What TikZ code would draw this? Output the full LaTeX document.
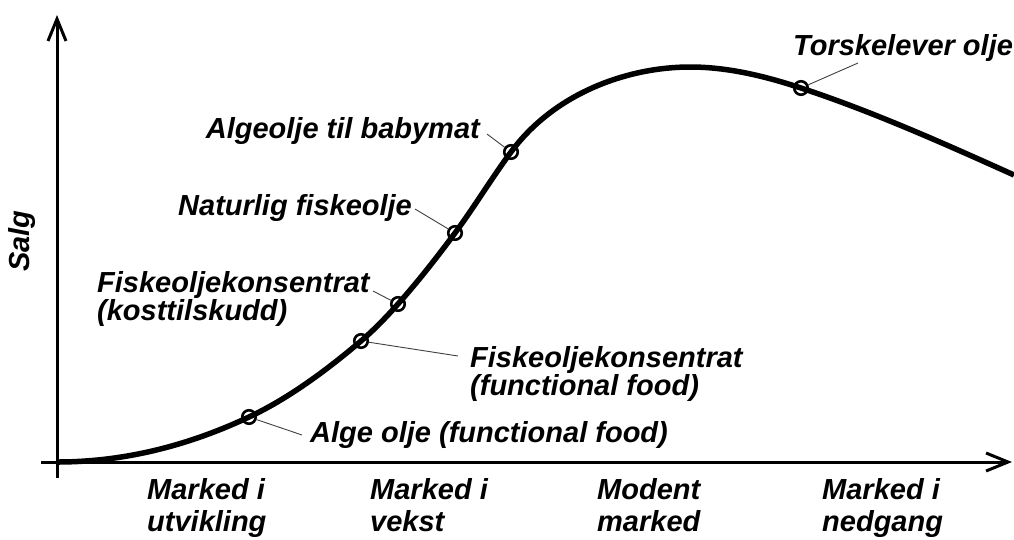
\documentclass[tikz,border=0pt]{standalone}
\usepackage{fontspec}
\setmainfont{Liberation Sans}
\usetikzlibrary{arrows.meta}
\begin{document}
\begin{tikzpicture}[x=1pt,y=-1pt,
  lbl/.style={font=\fontsize{29}{26}\selectfont\bfseries\itshape, inner sep=0pt, align=left},
  phase/.style={font=\fontsize{29}{32}\selectfont\bfseries\itshape, inner sep=0pt, align=left, anchor=north west},
  axisline/.style={line width=3pt, -{Straight Barb[length=22pt,width=18pt]}},
  curveline/.style={line width=5.5pt},
  dot/.style={circle, draw, line width=2.6pt, minimum size=13.5pt, inner sep=0pt},
  leader/.style={line width=0.9pt, black!75}
]
\fill[white] (0,0) rectangle (1014,539);
\useasboundingbox (0,0) rectangle (1014,539);

% axes
\coordinate (xs) at (41,462);
\coordinate (xe) at (1012,462);
\coordinate (ys) at (57,478);
\coordinate (ye) at (57,15);
\draw[axisline] (xs) -- (xe);
\draw[axisline] (ys) -- (ye);

% curve
\draw[curveline] (57,462)
  .. controls (121,462) and (185,447.1) .. (249,417)
  .. controls (286.3,399.5) and (323.7,372.7) .. (361,341)
  .. controls (373.3,330.5) and (385.7,317.8) .. (398,304)
  .. controls (417,282.7) and (436,258.65) .. (455,233)
  .. controls (473.7,207.8) and (492.3,177.2) .. (511,152)
  .. controls (556,91.25) and (630.3,67) .. (690,67)
  .. controls (727,67) and (764,75.8) .. (801,88)
  .. controls (872,111.4) and (943,143) .. (1014,175);

% dots
\node[dot] (d1) at (249,417) {};
\node[dot] (d2) at (361,341) {};
\node[dot] (d3) at (398,304) {};
\node[dot] (d4) at (455,233) {};
\node[dot] (d5) at (511,152) {};
\node[dot] (d7) at (801,88) {};

% labels
\node[lbl, anchor=base west] (torsk) at (793,55) {Torskelever olje};
\node[lbl, anchor=base east] (baby) at (480,138) {Algeolje til babymat};
\node[lbl, anchor=base west] (nat) at (178,215) {Naturlig fiskeolje};
\node[lbl, anchor=north west] (kost) at (97,271) {Fiskeoljekonsentrat\\(kosttilskudd)};
\node[lbl, anchor=north west] (func) at (470,346) {Fiskeoljekonsentrat\\(functional food)};
\node[lbl, anchor=base west] (alge) at (310,442) {Alge olje (functional food)};

% leader ends
\coordinate (ltorsk) at (858,63);
\coordinate (lbaby) at (487,134);
\coordinate (lnat) at (415,209);
\coordinate (lkost) at (373,291);
\coordinate (lfunc) at (458,356);
\coordinate (lalge) at (302,435);
\draw[leader] (d7) -- (ltorsk);
\draw[leader] (d5) -- (lbaby);
\draw[leader] (d4) -- (lnat);
\draw[leader] (d3) -- (lkost);
\draw[leader] (d2) -- (lfunc);
\draw[leader] (d1) -- (lalge);

% axis label
\node[lbl, rotate=90] (salg) at (22,241) {Salg};

% phases
\node[phase] (p1) at (147,478) {Marked i\\utvikling};
\node[phase] (p2) at (370,478) {Marked i\\vekst};
\node[phase] (p3) at (597,478) {Modent\\marked};
\node[phase] (p4) at (822,478) {Marked i\\nedgang};
\end{tikzpicture}
\end{document}
